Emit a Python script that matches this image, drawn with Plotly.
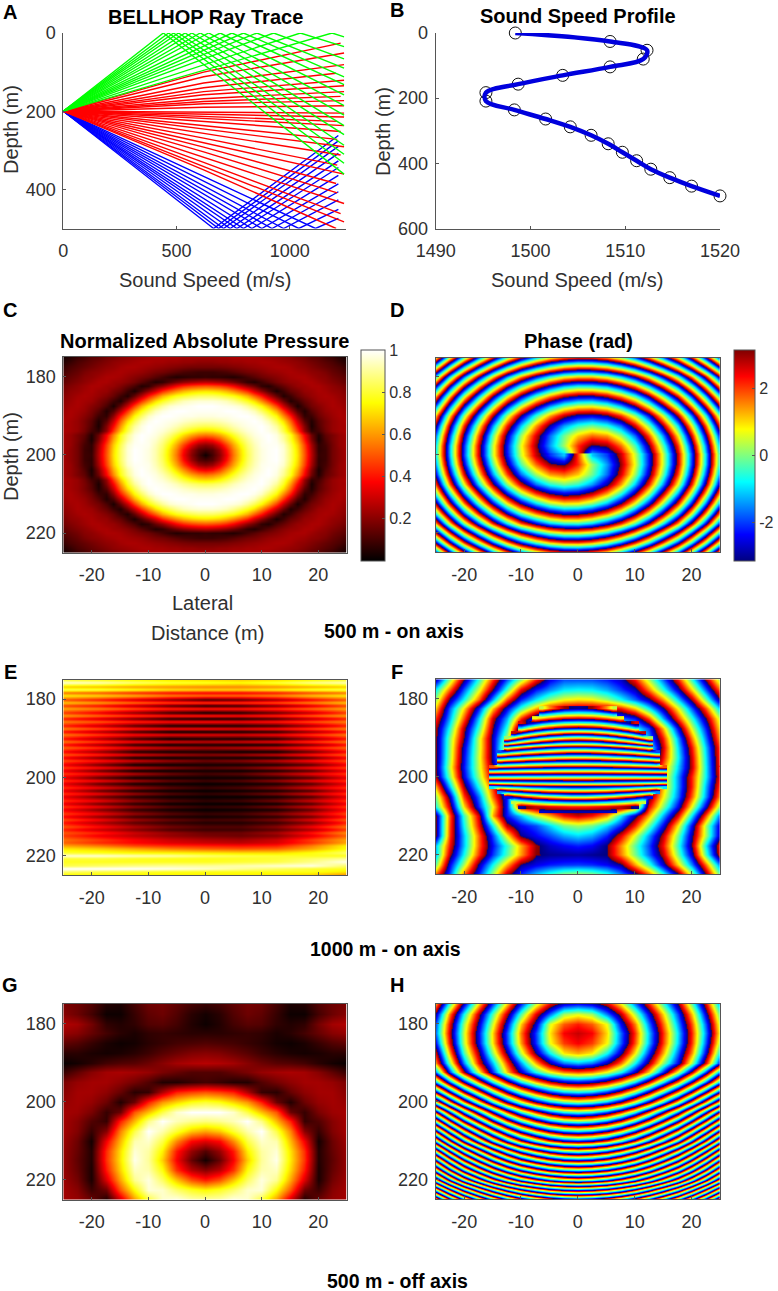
import plotly.graph_objects as go

# NOTE: heatmap grids are hand estimates, not pixel samples. D/F/H hold unwrapped phase from fringe
# counts; D's cells were worked out from a spiral fitted to the fringes, C's from a radial profile read
# off the picture. C is one mirrored quadrant, D's lower half is its upper half rotated 180 degrees,
# and G, F's stripes and part of H are mirrored left-right.
W, H = 778, 1291

# ---------- Panel A: rays ----------
GREEN_SURFACE_RANGE = [442, 465, 487, 509, 538, 568, 605, 642, 693, 745, 796, 855, 929, 1047, 1187]
GREEN_END_DEPTH = [361, 333, 310, 287, 260, 237, 210, 186, 158, 132, 112, 90, 66, 35, 10]
RED_END_DEPTH = [26, 51, 81, 103, 121, 135, 150, 162, 173, 186, 205, 215, 226, 237, 252, 272, 291, 312, 338, 361, 385, 409, 436, 462, 483, 500]
RED_MID_DEPTH = [100, 112, 128, 140, 150, 158, 168, 175, 181, 190, 202, 208, 213, 219, 226, 236, 245, 256, 269, 280, 292, 304, 318, 331, 341, 350]
RED_END_RANGE = [1225, 1240, 1240, 1205, 1240, 1240, 1240, 1225, 1240, 1240, 1240, 1240, 1210, 1240, 1225, 1210, 1240, 1225, 1210, 1240, 1205, 1210, 1240, 1225, 1240, 1205]
BLUE_BOTTOM_RANGE = [664, 686, 708, 737, 767, 796, 833, 877, 922, 973, 1040, 1114]
BLUE_END_DEPTH = [262, 276, 290, 308, 327, 344, 364, 386, 406, 427, 451, 474]
SOURCE_DEPTH = 200
GREEN_END_X = 1240
BLUE_END_X = 1215
RED_MID_X = 620

# ---------- Panel B: sound speed ----------
SSP_SPEED = [1498.4, 1508.4, 1512.3, 1511.9, 1508.4, 1503.4, 1498.7, 1495.3, 1495.3, 1498.3, 1501.6, 1504.2, 1506.4, 1508.2, 1509.7, 1511.2, 1512.7, 1514.7, 1517.0, 1520.0]
SSP_DEPTH = [0, 26, 53, 80, 104, 130, 157, 183, 209, 236, 264, 288, 314, 340, 366, 392, 418, 444, 470, 500]

# ---------- Shared heatmap axes ----------
X25 = [-25, -22.5, -20, -17.5, -15, -12.5, -10, -7.5, -5, -2.5, 0, 2.5, 5, 7.5, 10, 12.5, 15, 17.5, 20, 22.5, 25]
Y25 = [175, 177.5, 180, 182.5, 185, 187.5, 190, 192.5, 195, 197.5, 200, 202.5, 205, 207.5, 210, 212.5, 215, 217.5, 220, 222.5, 225]
C_X = [-25 + i * 1.25 for i in range(41)]
C_Y = [175 + i * 1.25 for i in range(41)]

# ---------- Panel C: amplitude, one quadrant (|x| across, |y-200| down, step 1.25) ----------
C_QUADRANT = [
    [.02, .10, .20, .36, .55, .70, .83, .92, .97, .99, 1.0, .96, .85, .71, .50, .27, .08, .09, .17, .21, .24],
    [.10, .13, .23, .39, .57, .71, .84, .92, .97, .99, 1.0, .96, .85, .70, .49, .26, .07, .09, .17, .21, .24],
    [.20, .23, .33, .47, .62, .75, .86, .93, .98, .99, .99, .95, .83, .68, .47, .24, .07, .10, .17, .22, .24],
    [.36, .39, .47, .59, .70, .81, .89, .95, .98, 1.0, .98, .91, .79, .63, .41, .19, .04, .12, .18, .22, .24],
    [.55, .57, .62, .70, .79, .87, .93, .97, .99, 1.0, .97, .89, .77, .58, .37, .16, .05, .14, .18, .22, .24],
    [.70, .71, .75, .81, .87, .92, .96, .98, 1.0, .98, .94, .82, .67, .46, .22, .07, .10, .17, .22, .24, .25],
    [.83, .84, .86, .89, .93, .96, .98, .99, 1.0, .97, .90, .78, .60, .38, .19, .04, .12, .18, .22, .24, .24],
    [.92, .92, .93, .95, .97, .98, .99, 1.0, .98, .93, .83, .70, .52, .30, .13, .05, .13, .18, .22, .24, .25],
    [.97, .97, .98, .98, .99, 1.0, 1.0, .98, .94, .85, .75, .58, .41, .21, .07, .09, .16, .20, .23, .25, .24],
    [.99, .99, .99, 1.0, 1.0, .99, .97, .93, .85, .76, .63, .45, .27, .12, .05, .13, .18, .22, .24, .25, .23],
    [1.0, 1.0, .99, .98, .97, .95, .90, .83, .75, .63, .47, .29, .15, .04, .11, .17, .20, .23, .25, .24, .22],
    [.96, .96, .95, .93, .89, .84, .78, .70, .58, .45, .29, .16, .05, .09, .15, .19, .23, .24, .25, .23, .21],
    [.85, .85, .83, .80, .77, .71, .64, .52, .41, .27, .15, .05, .09, .15, .19, .22, .24, .25, .24, .22, .20],
    [.71, .70, .68, .64, .58, .51, .43, .31, .21, .12, .04, .09, .15, .18, .22, .23, .25, .24, .22, .21, .18],
    [.50, .49, .47, .43, .37, .29, .21, .15, .07, .05, .11, .15, .19, .22, .23, .25, .25, .23, .21, .19, .17],
    [.27, .26, .24, .21, .17, .12, .07, .05, .09, .13, .17, .20, .22, .23, .25, .25, .23, .21, .19, .17, .14],
    [.08, .07, .07, .06, .05, .07, .10, .13, .16, .18, .20, .22, .24, .25, .25, .23, .21, .20, .17, .15, .13],
    [.09, .09, .10, .11, .13, .15, .17, .18, .20, .22, .23, .24, .25, .24, .23, .21, .20, .18, .15, .13, .10],
    [.17, .17, .17, .18, .19, .20, .21, .22, .23, .24, .25, .25, .24, .22, .21, .19, .17, .15, .13, .11, .08],
    [.21, .21, .22, .22, .23, .23, .24, .24, .25, .25, .24, .23, .22, .21, .19, .17, .15, .13, .11, .08, .05],
    [.24, .24, .24, .24, .25, .25, .25, .25, .24, .23, .22, .21, .20, .18, .17, .14, .13, .10, .08, .05, .03],
]

# ---------- Panel D: unwrapped phase, rows y=175..200; columns run from x=+25 to x=-25 ----------
D_UPPER_RIGHT_TO_LEFT = [
    [-58.9, -53.1, -47.8, -43.3, -39.3, -36.0, -33.3, -31.3, -29.9, -29.2, -29.1, -29.6, -30.7, -32.5, -34.9, -37.9, -41.5, -45.7, -50.6, -56.0, -62.1],
    [-52.9, -47.0, -41.8, -37.2, -33.2, -30.0, -27.3, -25.3, -23.9, -23.2, -23.1, -23.6, -24.8, -26.6, -29.0, -32.0, -35.6, -39.8, -44.7, -50.1, -56.2],
    [-47.4, -41.5, -36.3, -31.7, -27.8, -24.5, -21.9, -19.9, -18.5, -17.8, -17.8, -18.3, -19.5, -21.3, -23.7, -26.7, -30.4, -34.6, -39.5, -44.9, -51.0],
    [-42.6, -36.7, -31.5, -26.9, -22.9, -19.7, -17.0, -15.1, -13.7, -13.1, -13.0, -13.6, -14.9, -16.7, -19.1, -22.1, -25.8, -30.0, -34.9, -40.3, -46.4],
    [-38.3, -32.5, -27.2, -22.6, -18.7, -15.4, -12.8, -10.9, -9.6, -8.9, -9.0, -9.6, -10.9, -12.7, -15.2, -18.2, -21.8, -26.1, -30.9, -36.4, -42.5],
    [-34.7, -28.8, -23.6, -19.0, -15.1, -11.8, -9.2, -7.3, -6.0, -5.4, -5.5, -6.2, -7.5, -9.4, -11.9, -14.9, -18.6, -22.8, -27.6, -33.1, -39.2],
    [-31.7, -25.8, -20.6, -16.0, -12.0, -8.7, -6.1, -4.2, -3.0, -2.5, -2.7, -3.5, -4.9, -6.8, -9.3, -12.3, -16.0, -20.2, -25.0, -30.4, -36.5],
    [-29.4, -23.4, -18.2, -13.5, -9.6, -6.3, -3.7, -1.7, -.6, -.1, -.5, -1.4, -2.9, -4.9, -7.4, -10.4, -14.0, -18.2, -23.0, -28.4, -34.5],
    [-27.6, -21.7, -16.4, -11.7, -7.7, -4.4, -1.7, .2, 1.4, 1.7, 1.1, -.1, -1.7, -3.7, -6.1, -9.1, -12.7, -16.9, -21.7, -27.1, -33.1],
    [-26.5, -20.5, -15.2, -10.5, -6.5, -3.1, -.3, 1.7, 3.0, 3.3, 2.1, .2, -1.4, -3.3, -5.6, -8.6, -12.1, -16.2, -21.0, -26.3, -32.3],
    [-25.9, -20.0, -14.6, -9.9, -5.8, -2.4, .5, 2.7, 4.2, 5.2, 2.0, -1.1, -2.0, -3.6, -5.8, -8.6, -12.1, -16.2, -20.9, -26.2, -32.2],
]

# ---------- Panel E: amplitude stripes ----------
E_X = [-25, -18.75, -12.5, -6.25, 0, 6.25, 12.5, 18.75, 25]
E_Y = [175 + i * 5 / 6 for i in range(61)]
E_ROWS = [
    [.80, .78, .75, .72, .70, .68, .70, .75, .80], [.95, .92, .85, .80, .78, .75, .80, .88, .92],
    [.68, .66, .62, .60, .58, .58, .60, .64, .68], [.82, .80, .75, .70, .68, .68, .72, .78, .82],
    [.56, .52, .45, .40, .38, .38, .42, .50, .56], [.72, .68, .62, .55, .52, .52, .56, .65, .72],
    [.50, .42, .32, .22, .12, .15, .25, .38, .50], [.66, .60, .52, .46, .44, .44, .48, .56, .66],
    [.48, .40, .28, .15, .08, .10, .20, .34, .48], [.62, .56, .48, .42, .40, .40, .44, .52, .62],
    [.46, .36, .22, .10, .04, .06, .16, .30, .46], [.60, .52, .45, .40, .40, .38, .42, .50, .60],
    [.42, .32, .18, .07, .04, .05, .12, .28, .42], [.56, .50, .42, .38, .38, .36, .40, .48, .56],
    [.42, .30, .14, .05, .04, .05, .10, .26, .42], [.56, .48, .40, .36, .36, .34, .38, .46, .56],
    [.40, .28, .12, .03, .03, .04, .08, .24, .40], [.55, .46, .38, .34, .33, .32, .36, .45, .55],
    [.40, .26, .10, .02, .04, .04, .07, .22, .40], [.54, .45, .36, .31, .28, .30, .34, .44, .54],
    [.40, .25, .08, .03, .04, .03, .05, .20, .40], [.52, .44, .34, .28, .24, .27, .32, .42, .52],
    [.38, .23, .06, .03, .04, .02, .03, .17, .38], [.50, .42, .32, .25, .20, .22, .29, .40, .50],
    [.37, .20, .04, .02, .04, .03, .04, .15, .37], [.48, .40, .30, .22, .16, .19, .27, .38, .48],
    [.36, .18, .03, .02, .03, .03, .05, .14, .36], [.46, .38, .28, .19, .13, .16, .25, .36, .46],
    [.35, .17, .03, .02, .03, .02, .05, .14, .35], [.45, .37, .26, .16, .10, .13, .23, .35, .45],
    [.34, .15, .03, .02, .02, .02, .05, .13, .34], [.44, .36, .24, .14, .09, .12, .21, .34, .44],
    [.34, .15, .04, .02, .01, .02, .04, .13, .34], [.44, .35, .23, .13, .08, .11, .19, .32, .44],
    [.34, .16, .05, .02, .01, .02, .04, .12, .34], [.44, .35, .22, .12, .07, .10, .18, .31, .44],
    [.34, .17, .06, .02, .01, .01, .03, .12, .34], [.44, .35, .21, .12, .07, .09, .17, .30, .44],
    [.35, .18, .07, .02, .01, .01, .03, .13, .36], [.45, .35, .21, .12, .07, .09, .17, .30, .45],
    [.36, .20, .08, .03, .01, .02, .04, .15, .38], [.46, .36, .22, .13, .08, .10, .18, .31, .47],
    [.38, .22, .10, .05, .03, .04, .07, .17, .40], [.48, .37, .23, .15, .10, .11, .18, .33, .50],
    [.40, .26, .14, .08, .05, .05, .09, .20, .42], [.50, .39, .26, .17, .12, .12, .20, .36, .54],
    [.42, .30, .20, .12, .09, .09, .14, .26, .46], [.50, .42, .30, .22, .16, .16, .24, .40, .58],
    [.46, .36, .28, .22, .18, .16, .20, .34, .52], [.54, .46, .37, .30, .26, .24, .30, .46, .62],
    [.52, .44, .38, .33, .30, .28, .32, .45, .62], [.62, .56, .48, .44, .42, .40, .42, .56, .74],
    [.72, .68, .62, .56, .52, .50, .52, .62, .76], [.80, .78, .75, .74, .72, .70, .70, .76, .85],
    [.95, .95, .92, .90, .85, .82, .80, .78, .78], [.80, .80, .78, .77, .77, .78, .80, .85, .90],
    [.78, .78, .78, .78, .78, .80, .82, .88, .98], [.82, .85, .88, .90, .90, .92, .95, .97, .85],
    [1.0, 1.0, 1.0, .98, .95, .90, .85, .80, .78], [.85, .82, .80, .78, .77, .77, .77, .77, .72],
    [.72, .72, .72, .72, .72, .72, .70, .66, .55],
]

# ---------- Panel F: unwrapped phase; upper field y=175..197.5 and lower field y=197.5..225 ----------
F_UPPER = [
    [-28, -25, -22, -19.4, -16.8, -14.5, -12.5, -10.4, -8.8, -8.2, -8.18, -8.2, -8.5, -9, -10.3, -12.3, -14.3, -16.6, -19.4, -22.2, -25],
    [-26, -23.4, -20.7, -18.3, -15.7, -13, -10.2, -8.6, -7.8, -7.2, -7.08, -7.15, -7.6, -8.3, -9.1, -11, -13.1, -15.3, -17.9, -20.7, -23.5],
    [-25, -21.8, -19.6, -17.1, -13.9, -10.8, -8.5, -7.2, -6.2, -5.6, -5.38, -5.5, -6.1, -7, -8, -9.2, -11.1, -13.6, -16, -19, -22],
    [-24, -20.6, -17.9, -14.8, -11.4, -8.8, -6.7, -5, -3.9, -3.4, -3.28, -3.3, -3.5, -4, -5.2, -7.1, -9.2, -11.8, -14.4, -17, -20],
    [-23, -20.1, -17, -13.6, -9.9, -7.6, -4.2, -2, -1.3, -1, -1, -1, -1.2, -1.6, -2.3, -4.4, -7.5, -10.5, -13.1, -15.7, -18.5],
    [-22.3, -19.4, -16, -12.9, -9.4, -6.8, -2, -.5, 0, .4, .5, .4, .3, 0, -.5, -2, -5, -8.7, -12, -14.8, -18],
    [-22.2, -18.8, -15.7, -12.1, -9, -6, -1, 1, 1.5, 2, 2, 2, 1.8, 1.5, 1, -1.4, -4, -7.6, -11, -14.2, -17.5],
    [-22.2, -18.7, -15.2, -12.1, -9, -5.4, -.5, 1.5, 2.5, 3, 3, 3, 2.5, 1.5, .5, -.3, -3.6, -7.2, -10.3, -13.7, -17],
    [-22.2, -18.6, -15, -12, -9, -5.6, -.5, 1.5, 2.5, 3, 3, 3, 2.5, 1.5, .5, -.7, -3.9, -7, -10, -13.5, -16.9],
    [-22.1, -18.4, -14.9, -12.1, -9.4, -6.4, -.5, 1.5, 2.5, 3, 3, 3, 2.5, 1.5, .5, -2, -4.6, -7.3, -9.9, -13.4, -16.8],
]
F_LOWER = [
    [-15.8, -12.1, -8.6, -5.8, -3.1, -.1, 4.1, 4.6, 5, 5.4, 5.6, 5.4, 5, 4.6, 4.1, -2, -4.6, -7.3, -9.9, -13.4, -16.8],
    [-16, -12.5, -8.8, -6.1, -3.4, -.3, 4.1, 4.5, 4.9, 5.3, 5.5, 5.3, 4.9, 4.5, 4.1, -2.4, -5, -7.7, -10.4, -13.4, -16.6],
    [-17.6, -13.7, -9.7, -6.9, -4.2, -1, 3.9, 4.3, 4.7, 5, 5.1, 5, 4.7, 4.3, 3.9, -2.4, -5, -7.7, -10.4, -13.8, -17],
    [-18.8, -15.3, -10.6, -7.9, -4.6, -2.2, 3.4, 3.7, 4, 4.3, 4.5, 4.3, 4, 3.7, 3.4, -2.9, -5.4, -7.9, -10.8, -14, -17.5],
    [-19.5, -16.1, -11.6, -8.4, -5.5, -2.2, 2.7, 3.3, 3.5, 3.7, 3.9, 3.7, 3.5, 3.3, 2, -3.8, -6.2, -8.7, -11.9, -15.2, -18.8],
    [-22, -17, -13, -9.9, -5, -2.3, -1.1, .4, 1.3, 2.3, 2.7, 2.3, 1.4, -.8, -2.8, -5, -7.5, -10.1, -13.5, -17, -20.6],
    [-22, -16.9, -13.3, -10.2, -7, -3.5, -2.4, -1.9, -1, -.1, .2, -.1, -1, -2.2, -4.1, -6.4, -8.7, -11.7, -15, -18.6, -21.6],
    [-22, -16.8, -13.7, -10.8, -8.2, -5.5, -3, -2.4, -1.9, -1.3, -1, -1.3, -2.2, -3.8, -5.7, -7.7, -9.8, -12.6, -15.5, -18.6, -21.7],
    [-20, -16.5, -13.7, -10.8, -8.6, -6.8, -5, -3.3, -2.7, -2.4, -2.2, -2.4, -3.14, -4.8, -6.5, -8.2, -10.2, -13, -15.8, -19.7, -22.9],
    [-20, -16, -13.3, -10.5, -8.3, -6.6, -4.9, -3.2, -3, -2.95, -2.9, -3, -3.14, -4.7, -6.3, -8, -9.8, -12.6, -15.3, -19.2, -22.7],
    [-19, -15, -12.3, -9.2, -7, -5, -3, -2.5, -2.2, -2.05, -2, -2.1, -2.4, -3, -4.9, -6.7, -8.9, -11.5, -14.1, -17.2, -20.5],
    [-17, -14.4, -10.8, -8.4, -6, -3.4, -2.1, -1.1, -.4, .2, .4, .2, -.4, -1.4, -2.6, -4.4, -6.6, -9.1, -12.1, -15.7, -19],
]
# Panel F: central horizontal stripes, x = 0..15 step 1.25 (mirrored); short rows are cut at the stripe ends
F_STRIPE_Y = [182.5 + i * 1.25 for i in range(22)]
F_STRIPE_X_HALF = [0, 1.25, 2.5, 3.75, 5, 6.25, 7.5, 8.75, 10, 11.25, 12.5, 13.75, 15]
F_STRIPE_HALF = [
    [3.3, 3.2, 3, 2.3, 1.5, .4],
    [6, 5.9, 5.8, 5.5, 5.0, 4.5],
    [9, 8.9, 8.8, 8.5, 8.1, 7.6, 7.0],
    [12.6, 12.5, 12.4, 12.1, 11.6, 11.1, 10.4, 9.7, 8.8],
    [16.5, 16.4, 16.2, 15.9, 15.4, 14.8, 14, 13.1, 12],
    [21.4, 21.3, 21.1, 20.7, 20.2, 19.5, 18.7, 17.7, 16.6, 15.3],
    [26.4, 26.3, 26.1, 25.7, 25.2, 24.6, 23.7, 22.8, 21.7, 20.4, 19],
    [31, 30.9, 30.8, 30.5, 30, 29.5, 28.8, 28.1, 27.2, 26.1, 25],
    [35.5, 35.5, 35.3, 35.1, 34.8, 34.4, 33.9, 33.3, 32.6, 31.9, 31],
    [40, 40, 39.9, 39.7, 39.4, 39.1, 38.7, 38.3, 37.8, 37.2, 36.5, 35.8],
    [44.6, 44.6, 44.5, 44.4, 44.2, 43.9, 43.7, 43.3, 42.9, 42.5, 42, 41.5],
    [49.1, 49.1, 49, 49, 48.8, 48.7, 48.5, 48.3, 48, 47.7, 47.4, 47],
    [53.7, 53.7, 53.7, 53.6, 53.5, 53.4, 53.3, 53.2, 53, 52.8, 52.6, 52.4, 52.1],
    [58.5, 58.5, 58.5, 58.5, 58.4, 58.4, 58.3, 58.3, 58.2, 58.1, 58, 57.9, 57.8],
    [63.2, 63.2, 63.2, 63.2, 63.2, 63.1, 63.1, 63.1, 63.1, 63, 63, 63, 62.9],
    [67.8, 67.8, 67.8, 67.9, 67.9, 68, 68, 68.1, 68.2, 68.3, 68.4, 68.5, 68.7],
    [72.3, 72.3, 72.4, 72.4, 72.5, 72.7, 72.8, 73, 73.3, 73.5, 73.8, 74.1, 74.5],
    [76.8, 76.8, 76.9, 77.1, 77.2, 77.5, 77.8, 78.2, 78.6, 79.1, 79.6, 80.2],
    [81.4, 81.4, 81.6, 81.8, 82.1, 82.4, 82.9, 83.4, 84, 84.7, 85.5],
    [86, 86, 86.1, 86.3, 86.5, 86.8, 87.1, 87.5, 87.9, 88.4],
    [90, 90, 90.1, 90.2, 90.3, 90.5, 90.7, 91, 91.3],
    [91.4, 91.4, 91.4, 91.5, 91.5, 91.6],
]

# ---------- Panel G: amplitude, x=0..25 (mirrored), rows Y25 ----------
G_HALF = [
    [.08, .10, .14, .17, .16, .10, .04, .05, .12, .16, .18],
    [.03, .06, .12, .16, .14, .08, .02, .02, .10, .16, .20],
    [.02, .05, .10, .13, .12, .07, .05, .07, .17, .24, .26],
    [.06, .06, .07, .08, .07, .04, .06, .10, .15, .20, .22],
    [.12, .11, .10, .08, .06, .03, .02, .04, .08, .12, .14],
    [.20, .19, .16, .13, .09, .06, .04, .03, .04, .06, .06],
    [.27, .26, .24, .20, .16, .13, .12, .10, .06, .03, .01],
    [.12, .12, .15, .18, .22, .24, .25, .24, .20, .14, .08],
    [.10, .08, .05, .05, .12, .17, .21, .24, .24, .22, .18],
    [.50, .47, .42, .26, .08, .06, .15, .21, .24, .24, .20],
    [.80, .77, .69, .60, .42, .16, .05, .16, .22, .24, .22],
    [1.0, 1.0, .95, .82, .66, .50, .16, .08, .18, .23, .24],
    [.87, .89, .93, 1.0, .88, .65, .42, .08, .12, .20, .24],
    [.62, .67, .80, .92, 1.0, .82, .57, .20, .08, .19, .24],
    [.33, .38, .58, .82, .95, .92, .65, .36, .03, .16, .23],
    [.12, .22, .41, .73, .91, .96, .71, .44, .05, .15, .22],
    [.03, .15, .37, .68, .90, .98, .72, .45, .05, .14, .22],
    [.20, .27, .45, .76, .92, .94, .69, .41, .04, .15, .22],
    [.42, .50, .67, .85, .97, .89, .62, .32, .04, .17, .23],
    [.75, .79, .86, .95, .96, .75, .50, .16, .09, .20, .24],
    [.92, .93, .98, .95, .80, .60, .30, .04, .16, .22, .24],
]

# ---------- Panel H: unwrapped phase ----------
H_UPPER = [  # y = 175..190, all 21 columns
    [-30, -25.5, -21.5, -17.8, -14.5, -11.5, -8.5, -5.8, -3.8, -2.6, -2.3, -2.6, -3.6, -5.4, -7.8, -10.3, -12.9, -15.7, -19, -22.6, -26.5],
    [-28, -23.5, -19.6, -16, -12.8, -9.8, -6.6, -3.8, -1.7, .2, .6, .2, -1.6, -3.5, -6, -8.8, -11.5, -14.5, -17.7, -21.5, -25.4],
    [-27, -22.7, -18.7, -15.3, -12, -8.8, -5.2, -2.7, .6, 1.8, 2.2, 1.8, .7, -2.4, -4.7, -7.9, -10.8, -13.9, -17, -20.7, -24.8],
    [-26.8, -22.4, -18.4, -14.9, -11.5, -8.2, -4.7, -2, .9, 2.4, 2.7, 2.4, 1, -1.7, -4.2, -7.4, -10.4, -13.5, -16.7, -20.4, -24.5],
    [-27.5, -22.7, -18.5, -15, -11.6, -8.3, -4.9, -2.1, .7, 2, 2.4, 2, .8, -1.8, -4.4, -7.5, -10.5, -13.6, -16.8, -20.7, -25],
    [-28.8, -23.7, -19.2, -15.8, -12.4, -9.3, -5.9, -3, -.8, .9, 1.3, .9, -.7, -2.8, -5.4, -8.4, -11.2, -14.3, -17.4, -21.4, -26],
    [-30, -25, -20.4, -16.5, -13.7, -10.6, -7.7, -5, -2.9, -1.6, -1.2, -1.6, -2.8, -4.6, -7, -9.6, -12.4, -15, -18.6, -22.7, -27.5],
]
H_LOWER_HALF = [  # y = 192.5..225, x = 0..25 (mirrored)
    [-4.4, -4.7, -5.6, -7, -9, -11.5, -14.7, -18.2, -22.3, -27.2, -33],
    [-8.7, -9, -9.9, -11.4, -13.5, -16.3, -19.6, -23.5, -28.1, -33.2, -39],
    [-13.4, -13.7, -14.7, -16.4, -18.8, -21.8, -25.5, -29.9, -34.9, -40.6, -47],
    [-18.7, -19.1, -20.2, -22, -24.7, -28, -32.1, -37, -42.6, -48.9, -56],
    [-24.8, -25.2, -26.4, -28.5, -31.3, -35, -39.5, -44.7, -50.8, -57.8, -65.5],
    [-31.3, -31.7, -33, -35.2, -38.3, -42.2, -47, -52.7, -59.3, -66.7, -75],
    [-38.6, -39.1, -40.5, -42.8, -46, -50.2, -55.3, -61.3, -68.3, -76.2, -85],
    [-46.4, -46.9, -48.3, -50.8, -54.2, -58.6, -63.9, -70.2, -77.5, -85.8, -95],
    [-55.4, -55.9, -57.4, -59.9, -63.3, -67.8, -73.3, -79.7, -87.1, -95.6, -105],
    [-65.2, -65.7, -67.2, -69.7, -73.2, -77.8, -83.3, -89.8, -97.4, -106, -115.5],
    [-76, -76.5, -78, -80.5, -84, -88.5, -94, -100.5, -108, -116.5, -126],
    [-88, -88.5, -90, -92.5, -95.9, -100.4, -105.8, -112.3, -119.7, -128.1, -137.5],
    [-101.4, -101.9, -103.3, -105.8, -109.2, -113.6, -118.9, -125.2, -132.5, -140.8, -150],
    [-116, -116.5, -117.9, -120.2, -123.5, -127.8, -132.9, -139, -146.1, -154.1, -163],
]

# ---------- Ticks and texts ----------
LATERAL_TICKS = [-20, -10, 0, 10, 20]
LATERAL_LABELS = ["-20", "-10", "0", "10", "20"]
DEPTH_TICKS = [180, 200, 220]
CBAR_C_TICKS = [0.2, 0.4, 0.6, 0.8, 1]
CBAR_D_TICKS = [-2, 0, 2]
CBAR_D_LABELS = ["-2", "0", "2"]


def mirror_row(half):
    return half[:0:-1] + half


def mirror_x(rows):
    return [mirror_row(r) for r in rows]


C_Z = mirror_x(C_QUADRANT[:0:-1] + C_QUADRANT)
D_UPPER = [r[::-1] for r in D_UPPER_RIGHT_TO_LEFT]
D_LOWER = [r[::-1] for r in D_UPPER[::-1]]
G_Z = mirror_x(G_HALF)
H_Z = H_UPPER + mirror_x(H_LOWER_HALF)
F_STRIPE_X = [-v for v in F_STRIPE_X_HALF[:0:-1]] + F_STRIPE_X_HALF
F_STRIPES = mirror_x([r + [None] * (len(F_STRIPE_X_HALF) - len(r)) for r in F_STRIPE_HALF])

TEXT = "#303030"
AXIS = "#555555"
FONT = "Liberation Sans"
PI = 3.14159265
HOT = [[0, "#000000"], [.375, "#ff0000"], [.75, "#ffff00"], [1, "#ffffff"]]
JET_STOPS = [(0, "#00007f"), (.125, "#0000ff"), (.375, "#00ffff"), (.625, "#ffff00"), (.875, "#ff0000"), (1, "#7f0000")]
JET = [[p, c] for p, c in JET_STOPS]

# repeating jet, so unwrapped phase shows wrapped colours
CYCLE_MIN, CYCLE_MAX = -28, 16  # in units of 2*pi, starting at -pi
ZMIN = CYCLE_MIN * 2 * PI - PI
ZMAX = CYCLE_MAX * 2 * PI - PI
n_cycles = CYCLE_MAX - CYCLE_MIN
PERIODIC = []
for k in range(n_cycles):
    for p, c in JET_STOPS:
        PERIODIC.append([min(1.0, (k + p) / n_cycles), c])


def dom(x0, x1, y0, y1):
    return dict(x=[x0 / W, x1 / W], y=[1 - y1 / H, 1 - y0 / H])


# Split panels: the two clipped fields overlap so no seam shows
SEAM_PX = 1.5
D_TOP, D_BOTTOM = 357.5, 552
D_MID = (D_TOP + D_BOTTOM) / 2
D_SEAM = SEAM_PX * 50 / (D_BOTTOM - D_TOP)
F_TOP, F_BOTTOM = 679.3, 874.3
F_SPLIT_DEPTH = 197.5
F_MID = F_TOP + (F_SPLIT_DEPTH - 175) / 50 * (F_BOTTOM - F_TOP)
F_SEAM = SEAM_PX * 50 / (F_BOTTOM - F_TOP)
AX = {
    "": dom(63.3, 346.3, 33, 228.5),
    "2": dom(435.7, 720, 33, 228.5),
    "3": dom(63.3, 346.7, 356.7, 552.7),
    "4": dom(435.7, 720, D_TOP, D_MID),
    "5": dom(63.3, 346.7, 679.5, 875),
    "6": dom(435.7, 720, F_TOP, F_MID),
    "7": dom(63.3, 346.7, 1004, 1199.5),
    "8": dom(435.7, 720, 1004, 1199),
    "9": dom(435.7, 720, D_MID - SEAM_PX, D_BOTTOM),
    "10": dom(435.7, 720, D_TOP, D_BOTTOM),
    "11": dom(435.7, 720, F_MID - SEAM_PX, F_BOTTOM),
    "12": dom(435.7, 720, F_TOP, F_BOTTOM),
}

fig = go.Figure()

# A: rays
rx, ry = [], []
for m, e, ex in zip(RED_MID_DEPTH, RED_END_DEPTH, RED_END_RANGE):
    rx += [0, RED_MID_X, ex, None]
    ry += [SOURCE_DEPTH, m, e, None]
gx, gy = [], []
for h, e in zip(GREEN_SURFACE_RANGE, GREEN_END_DEPTH):
    gx += [0, h, GREEN_END_X, None]
    gy += [SOURCE_DEPTH, 0, e, None]
bx, by = [], []
for h, e in zip(BLUE_BOTTOM_RANGE, BLUE_END_DEPTH):
    bx += [0, h, BLUE_END_X, None]
    by += [SOURCE_DEPTH, 500, e, None]
for xs, ys, col in [(bx, by, "#0000ff"), (rx, ry, "#ff0000"), (gx, gy, "#00ff00")]:
    fig.add_trace(go.Scatter(x=xs, y=ys, mode="lines", line=dict(color=col, width=1.4), xaxis="x", yaxis="y", hoverinfo="skip"))

# B: profile
fig.add_trace(go.Scatter(x=SSP_SPEED, y=SSP_DEPTH, mode="markers", cliponaxis=False, marker=dict(symbol="circle-open", size=12, color="#111111", line=dict(width=1)), xaxis="x2", yaxis="y2", hoverinfo="skip"))
fig.add_trace(go.Scatter(x=SSP_SPEED, y=SSP_DEPTH, mode="lines", cliponaxis=False, line=dict(color="#0000dd", width=4.5, shape="spline"), xaxis="x2", yaxis="y2", hoverinfo="skip"))


def amp(x, y, z, ax, **kw):
    fig.add_trace(go.Heatmap(x=x, y=y, z=z, zmin=0, zmax=1, colorscale=HOT, zsmooth="best", xaxis="x" + ax, yaxis="y" + ax, hoverinfo="skip", **kw))


def phase(x, y, z, ax):
    fig.add_trace(go.Heatmap(x=x, y=y, z=z, zmin=ZMIN, zmax=ZMAX, colorscale=PERIODIC, zsmooth="best", showscale=False, xaxis="x" + ax, yaxis="y" + ax, hoverinfo="skip"))


def cbar(x, vals, w, labels=None):
    c = dict(x=x / W, xanchor="left", y=1 - 455.5 / H, yanchor="middle", len=211, lenmode="pixels", thickness=w, thicknessmode="pixels",
             outlinecolor=AXIS, outlinewidth=1, tickvals=vals, ticks="inside", ticklen=3, tickcolor=AXIS, tickfont=dict(size=16, color=TEXT, family=FONT), xpad=0, ypad=0)
    if labels:
        c["ticktext"] = labels
    return c


amp(C_X, C_Y, C_Z, "3", colorbar=cbar(361, CBAR_C_TICKS, 24))
phase(X25, Y25[:11], D_UPPER, "4")
phase(X25, Y25[10:], D_LOWER, "9")
# D's frame and colourbar: a single off-range block carries them
fig.add_trace(go.Heatmap(x=[1000, 1001], y=[1000, 1001], z=[[0, 0], [0, 0]], zmin=-PI, zmax=PI, colorscale=JET, xaxis="x10", yaxis="y10", hoverinfo="skip", colorbar=cbar(734, CBAR_D_TICKS, 21, CBAR_D_LABELS)))
amp(E_X, E_Y, E_ROWS, "5", showscale=False)
phase(X25, Y25[:10], F_UPPER, "6")
phase(X25, Y25[9:], F_LOWER, "11")
phase(F_STRIPE_X, F_STRIPE_Y, F_STRIPES, "12")
amp(X25, Y25, G_Z, "7", showscale=False)
phase(X25, Y25, H_Z, "8")

layout = dict(width=W, height=H, margin=dict(l=0, r=0, t=0, b=0, autoexpand=False), paper_bgcolor="white", plot_bgcolor="rgba(0,0,0,0)", showlegend=False,
              font=dict(family=FONT, color=TEXT, size=18))
common = dict(showgrid=False, zeroline=False, ticks="inside", ticklen=3, tickcolor=AXIS, linecolor=AXIS, linewidth=1, showline=True,
              tickfont=dict(size=18, color=TEXT, family=FONT), ticklabelstandoff=6)
layout["xaxis"] = dict(common, domain=AX[""]["x"], anchor="y", range=[0, 1250], tickvals=[0, 500, 1000])
layout["yaxis"] = dict(common, domain=AX[""]["y"], anchor="x", range=[500, 0], tickvals=[0, 200, 400], ticklabelstandoff=3)
layout["xaxis2"] = dict(common, domain=AX["2"]["x"], anchor="y2", range=[1490, 1520], tickvals=[1490, 1500, 1510, 1520])
layout["yaxis2"] = dict(common, domain=AX["2"]["y"], anchor="x2", range=[600, 0], tickvals=[0, 200, 400, 600], ticklabelstandoff=3)
for k in ["3", "5", "7", "8", "10", "12"]:
    layout["xaxis" + k] = dict(common, domain=AX[k]["x"], anchor="y" + k, range=[-25, 25], tickvals=LATERAL_TICKS, ticktext=LATERAL_LABELS, mirror=True)
    layout["yaxis" + k] = dict(common, domain=AX[k]["y"], anchor="x" + k, range=[225, 175], tickvals=DEPTH_TICKS, mirror=True, ticklabelstandoff=3)
layout["yaxis10"]["showticklabels"] = False
for k, rng in [("4", [200, 175]), ("9", [225, 200 - D_SEAM]), ("6", [F_SPLIT_DEPTH, 175]), ("11", [225, F_SPLIT_DEPTH - F_SEAM])]:
    layout["xaxis" + k] = dict(domain=AX[k]["x"], anchor="y" + k, range=[-25, 25], visible=False)
    layout["yaxis" + k] = dict(domain=AX[k]["y"], anchor="x" + k, range=rng, visible=False)


def txt(s, x, y, size=20, bold=False, color=TEXT, rot=0):
    return dict(text=f"<b>{s}</b>" if bold else s, x=x / W, y=1 - y / H, xref="paper", yref="paper", showarrow=False,
                xanchor="center", yanchor="middle", textangle=rot, font=dict(size=size, color=color, family=FONT))


layout["annotations"] = [
    txt("BELLHOP Ray Trace", 205, 17, bold=True, color="#000000"),
    txt("Sound Speed Profile", 578, 16, bold=True, color="#000000"),
    txt("Normalized Absolute Pressure", 204, 341, bold=True, color="#000000"),
    txt("Phase (rad)", 578, 341, bold=True, color="#000000"),
    txt("Sound Speed (m/s)", 205, 280),
    txt("Sound Speed (m/s)", 577, 280),
    txt("Depth (m)", 11, 130, rot=-90),
    txt("Depth (m)", 383, 132, rot=-90),
    txt("Depth (m)", 11, 457, rot=-90),
    txt("Lateral", 202, 603),
    txt("Distance (m)", 207, 633),
    txt("500 m - on axis", 394, 631, size=19.5, bold=True, color="#000000"),
    txt("1000 m - on axis", 385, 949, size=19.5, bold=True, color="#000000"),
    txt("500 m - off axis", 397, 1281, size=19.5, bold=True, color="#000000"),
    txt("A", 10, 12, size=20, bold=True, color="#000000"),
    txt("B", 397, 10, size=20, bold=True, color="#000000"),
    txt("C", 10, 310, size=20, bold=True, color="#000000"),
    txt("D", 397, 310, size=20, bold=True, color="#000000"),
    txt("E", 10, 672, size=20, bold=True, color="#000000"),
    txt("F", 397, 672, size=20, bold=True, color="#000000"),
    txt("G", 10, 985, size=20, bold=True, color="#000000"),
    txt("H", 397, 985, size=20, bold=True, color="#000000"),
]
fig.update_layout(**layout)
fig.write_html("out.html", post_script="document.body.style.margin='0';", config=dict(displayModeBar=False))
